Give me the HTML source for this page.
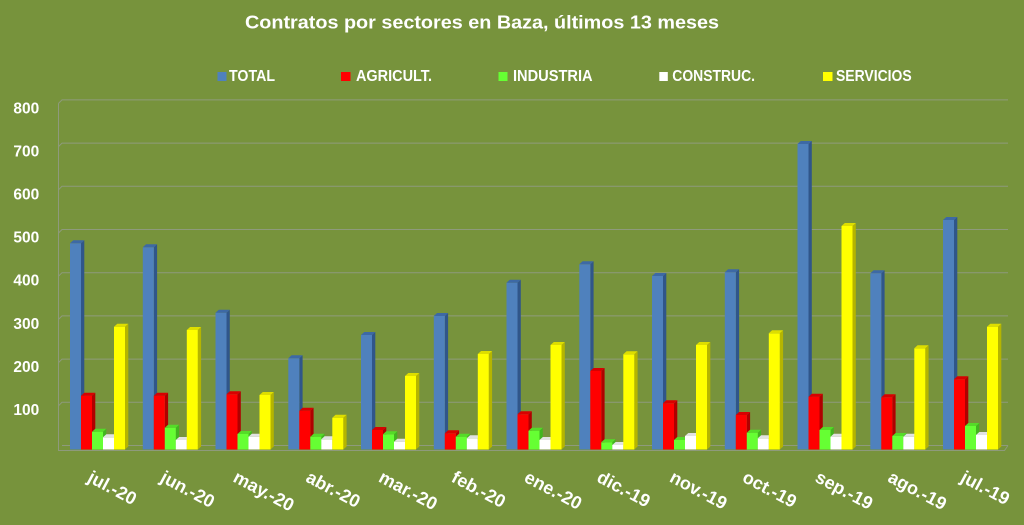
<!DOCTYPE html>
<html>
<head>
<meta charset="utf-8">
<style>
html,body{margin:0;padding:0;background:#77933c;}
svg{display:block;}
text{font-family:"Liberation Sans",sans-serif;font-weight:bold;fill:#ffffff;}
.Tf{fill:#4f81bd}.Ts{fill:#30568a}.Tt{fill:#3d69a5}
.Af{fill:#ff0000}.As{fill:#b00000}.At{fill:#d80000}
.If{fill:#66ff33}.Is{fill:#42b51f}.It{fill:#55db28}
.Cf{fill:#ffffff}.Cs{fill:#c4c4c4}.Ct{fill:#e2e2e2}
.Sf{fill:#ffff00}.Ss{fill:#b5b500}.St{fill:#dede00}
.g{stroke:#8e9a7c;stroke-width:1;fill:none}
</style>
</head>
<body>
<svg width="1024" height="525" viewBox="0 0 1024 525" xmlns="http://www.w3.org/2000/svg">
<rect width="1024" height="525" fill="#77933c"/>

<!-- Title -->
<text x="245" y="28.5" font-size="18" textLength="474" lengthAdjust="spacingAndGlyphs">Contratos por sectores en Baza, últimos 13 meses</text>

<!-- Legend -->
<rect x="217.5" y="72" width="9" height="9" fill="#4f81bd"/>
<text x="229" y="81" font-size="15.5" textLength="46" lengthAdjust="spacingAndGlyphs">TOTAL</text>
<rect x="341" y="72" width="9.5" height="9" fill="#ff0000"/>
<text x="356" y="81" font-size="15.5" textLength="76" lengthAdjust="spacingAndGlyphs">AGRICULT.</text>
<rect x="498.5" y="72" width="9" height="9" fill="#66ff33"/>
<text x="513" y="81" font-size="15.5" textLength="79.6" lengthAdjust="spacingAndGlyphs">INDUSTRIA</text>
<rect x="659.3" y="72" width="8.5" height="9" fill="#ffffff"/>
<text x="672.3" y="81" font-size="15.5" textLength="82.7" lengthAdjust="spacingAndGlyphs">CONSTRUC.</text>
<rect x="823" y="72" width="9.5" height="9" fill="#ffff00"/>
<text x="836" y="81" font-size="15.5" textLength="75.7" lengthAdjust="spacingAndGlyphs">SERVICIOS</text>

<!-- Y labels -->
<g font-size="15.5" text-anchor="end">
<text x="39.3" y="113.3">800</text>
<text x="39.3" y="156.4">700</text>
<text x="39.3" y="199.5">600</text>
<text x="39.3" y="242.6">500</text>
<text x="39.3" y="285.7">400</text>
<text x="39.3" y="328.8">300</text>
<text x="39.3" y="371.9">200</text>
<text x="39.3" y="415">100</text>
</g>

<!-- Gridlines / walls -->
<g class="g">
<polyline points="58.5,103.4 62,99.9 1008,99.9"/>
<polyline points="58.5,146.6 62,143.1 1008,143.1"/>
<polyline points="58.5,189.8 62,186.3 1008,186.3"/>
<polyline points="58.5,233 62,229.5 1008,229.5"/>
<polyline points="58.5,276.2 62,272.7 1008,272.7"/>
<polyline points="58.5,319.4 62,315.9 1008,315.9"/>
<polyline points="58.5,362.6 62,359.1 1008,359.1"/>
<polyline points="58.5,405.8 62,402.3 1008,402.3"/>
<polyline points="62,445.5 1008,445.5"/>
<polyline points="58.5,103.4 58.5,450.5 1004.5,450.5 1008,445.5"/>
</g>

<!-- Bars -->
<!-- i0 jul.-20 g=70 -->
<path class="Ts" d="M81 243.3l3.3-3V446.5l-3.3 3z"/><rect class="Tf" x="70" y="243.3" width="11" height="206.2"/><path class="Tt" d="M70 243.3l3.3-3h11l-3.3 3z"/>
<path class="As" d="M92 395.7l3.3-3V446.5l-3.3 3z"/><rect class="Af" x="81" y="395.7" width="11" height="53.8"/><path class="At" d="M81 395.7l3.3-3h11l-3.3 3z"/>
<path class="Is" d="M103 431.7l3.3-3V446.5l-3.3 3z"/><rect class="If" x="92" y="431.7" width="11" height="17.8"/><path class="It" d="M92 431.7l3.3-3h11l-3.3 3z"/>
<path class="Cs" d="M114 437.3l3.3-3V446.5l-3.3 3z"/><rect class="Cf" x="103" y="437.3" width="11" height="12.2"/><path class="Ct" d="M103 437.3l3.3-3h11l-3.3 3z"/>
<path class="Ss" d="M125 326.7l3.3-3V446.5l-3.3 3z"/><rect class="Sf" x="114" y="326.7" width="11" height="122.8"/><path class="St" d="M114 326.7l3.3-3h11l-3.3 3z"/>

<!-- i1 jun.-20 g=142.8 -->
<path class="Ts" d="M153.8 247.3l3.3-3V446.5l-3.3 3z"/><rect class="Tf" x="142.8" y="247.3" width="11" height="202.2"/><path class="Tt" d="M142.8 247.3l3.3-3h11l-3.3 3z"/>
<path class="As" d="M164.8 395.7l3.3-3V446.5l-3.3 3z"/><rect class="Af" x="153.8" y="395.7" width="11" height="53.8"/><path class="At" d="M153.8 395.7l3.3-3h11l-3.3 3z"/>
<path class="Is" d="M175.8 427.7l3.3-3V446.5l-3.3 3z"/><rect class="If" x="164.8" y="427.7" width="11" height="21.8"/><path class="It" d="M164.8 427.7l3.3-3h11l-3.3 3z"/>
<path class="Cs" d="M186.8 440l3.3-3V446.5l-3.3 3z"/><rect class="Cf" x="175.8" y="440" width="11" height="9.5"/><path class="Ct" d="M175.8 440l3.3-3h11l-3.3 3z"/>
<path class="Ss" d="M197.8 330l3.3-3V446.5l-3.3 3z"/><rect class="Sf" x="186.8" y="330" width="11" height="119.5"/><path class="St" d="M186.8 330l3.3-3h11l-3.3 3z"/>

<!-- i2 may.-20 g=215.5 -->
<path class="Ts" d="M226.5 312.7l3.3-3V446.5l-3.3 3z"/><rect class="Tf" x="215.5" y="312.7" width="11" height="136.8"/><path class="Tt" d="M215.5 312.7l3.3-3h11l-3.3 3z"/>
<path class="As" d="M237.5 394.3l3.3-3V446.5l-3.3 3z"/><rect class="Af" x="226.5" y="394.3" width="11" height="55.2"/><path class="At" d="M226.5 394.3l3.3-3h11l-3.3 3z"/>
<path class="Is" d="M248.5 434l3.3-3V446.5l-3.3 3z"/><rect class="If" x="237.5" y="434" width="11" height="15.5"/><path class="It" d="M237.5 434l3.3-3h11l-3.3 3z"/>
<path class="Cs" d="M259.5 436.7l3.3-3V446.5l-3.3 3z"/><rect class="Cf" x="248.5" y="436.7" width="11" height="12.8"/><path class="Ct" d="M248.5 436.7l3.3-3h11l-3.3 3z"/>
<path class="Ss" d="M270.5 395l3.3-3V446.5l-3.3 3z"/><rect class="Sf" x="259.5" y="395" width="11" height="54.5"/><path class="St" d="M259.5 395l3.3-3h11l-3.3 3z"/>

<!-- i3 abr.-20 g=288.3 -->
<path class="Ts" d="M299.3 358.3l3.3-3V446.5l-3.3 3z"/><rect class="Tf" x="288.3" y="358.3" width="11" height="91.2"/><path class="Tt" d="M288.3 358.3l3.3-3h11l-3.3 3z"/>
<path class="As" d="M310.3 410.7l3.3-3V446.5l-3.3 3z"/><rect class="Af" x="299.3" y="410.7" width="11" height="38.8"/><path class="At" d="M299.3 410.7l3.3-3h11l-3.3 3z"/>
<path class="Is" d="M321.3 436.7l3.3-3V446.5l-3.3 3z"/><rect class="If" x="310.3" y="436.7" width="11" height="12.8"/><path class="It" d="M310.3 436.7l3.3-3h11l-3.3 3z"/>
<path class="Cs" d="M332.3 439.3l3.3-3V446.5l-3.3 3z"/><rect class="Cf" x="321.3" y="439.3" width="11" height="10.2"/><path class="Ct" d="M321.3 439.3l3.3-3h11l-3.3 3z"/>
<path class="Ss" d="M343.3 417.7l3.3-3V446.5l-3.3 3z"/><rect class="Sf" x="332.3" y="417.7" width="11" height="31.8"/><path class="St" d="M332.3 417.7l3.3-3h11l-3.3 3z"/>

<!-- i4 mar.-20 g=361 -->
<path class="Ts" d="M372 335l3.3-3V446.5l-3.3 3z"/><rect class="Tf" x="361" y="335" width="11" height="114.5"/><path class="Tt" d="M361 335l3.3-3h11l-3.3 3z"/>
<path class="As" d="M383 430l3.3-3V446.5l-3.3 3z"/><rect class="Af" x="372" y="430" width="11" height="19.5"/><path class="At" d="M372 430l3.3-3h11l-3.3 3z"/>
<path class="Is" d="M394 434.3l3.3-3V446.5l-3.3 3z"/><rect class="If" x="383" y="434.3" width="11" height="15.2"/><path class="It" d="M383 434.3l3.3-3h11l-3.3 3z"/>
<path class="Cs" d="M405 441.7l3.3-3V446.5l-3.3 3z"/><rect class="Cf" x="394" y="441.7" width="11" height="7.8"/><path class="Ct" d="M394 441.7l3.3-3h11l-3.3 3z"/>
<path class="Ss" d="M416 376l3.3-3V446.5l-3.3 3z"/><rect class="Sf" x="405" y="376" width="11" height="73.5"/><path class="St" d="M405 376l3.3-3h11l-3.3 3z"/>

<!-- i5 feb.-20 g=433.8 -->
<path class="Ts" d="M444.8 316l3.3-3V446.5l-3.3 3z"/><rect class="Tf" x="433.8" y="316" width="11" height="133.5"/><path class="Tt" d="M433.8 316l3.3-3h11l-3.3 3z"/>
<path class="As" d="M455.8 433.3l3.3-3V446.5l-3.3 3z"/><rect class="Af" x="444.8" y="433.3" width="11" height="16.2"/><path class="At" d="M444.8 433.3l3.3-3h11l-3.3 3z"/>
<path class="Is" d="M466.8 436.7l3.3-3V446.5l-3.3 3z"/><rect class="If" x="455.8" y="436.7" width="11" height="12.8"/><path class="It" d="M455.8 436.7l3.3-3h11l-3.3 3z"/>
<path class="Cs" d="M477.8 438.3l3.3-3V446.5l-3.3 3z"/><rect class="Cf" x="466.8" y="438.3" width="11" height="11.2"/><path class="Ct" d="M466.8 438.3l3.3-3h11l-3.3 3z"/>
<path class="Ss" d="M488.8 354l3.3-3V446.5l-3.3 3z"/><rect class="Sf" x="477.8" y="354" width="11" height="95.5"/><path class="St" d="M477.8 354l3.3-3h11l-3.3 3z"/>

<!-- i6 ene.-20 g=506.5 -->
<path class="Ts" d="M517.5 282.7l3.3-3V446.5l-3.3 3z"/><rect class="Tf" x="506.5" y="282.7" width="11" height="166.8"/><path class="Tt" d="M506.5 282.7l3.3-3h11l-3.3 3z"/>
<path class="As" d="M528.5 414.3l3.3-3V446.5l-3.3 3z"/><rect class="Af" x="517.5" y="414.3" width="11" height="35.2"/><path class="At" d="M517.5 414.3l3.3-3h11l-3.3 3z"/>
<path class="Is" d="M539.5 430.7l3.3-3V446.5l-3.3 3z"/><rect class="If" x="528.5" y="430.7" width="11" height="18.8"/><path class="It" d="M528.5 430.7l3.3-3h11l-3.3 3z"/>
<path class="Cs" d="M550.5 440l3.3-3V446.5l-3.3 3z"/><rect class="Cf" x="539.5" y="440" width="11" height="9.5"/><path class="Ct" d="M539.5 440l3.3-3h11l-3.3 3z"/>
<path class="Ss" d="M561.5 345l3.3-3V446.5l-3.3 3z"/><rect class="Sf" x="550.5" y="345" width="11" height="104.5"/><path class="St" d="M550.5 345l3.3-3h11l-3.3 3z"/>

<!-- i7 dic.-19 g=579.3 -->
<path class="Ts" d="M590.3 264.3l3.3-3V446.5l-3.3 3z"/><rect class="Tf" x="579.3" y="264.3" width="11" height="185.2"/><path class="Tt" d="M579.3 264.3l3.3-3h11l-3.3 3z"/>
<path class="As" d="M601.3 371l3.3-3V446.5l-3.3 3z"/><rect class="Af" x="590.3" y="371" width="11" height="78.5"/><path class="At" d="M590.3 371l3.3-3h11l-3.3 3z"/>
<path class="Is" d="M612.3 442.3l3.3-3V446.5l-3.3 3z"/><rect class="If" x="601.3" y="442.3" width="11" height="7.2"/><path class="It" d="M601.3 442.3l3.3-3h11l-3.3 3z"/>
<path class="Cs" d="M623.3 445l3.3-3V446.5l-3.3 3z"/><rect class="Cf" x="612.3" y="445" width="11" height="4.5"/><path class="Ct" d="M612.3 445l3.3-3h11l-3.3 3z"/>
<path class="Ss" d="M634.3 354.3l3.3-3V446.5l-3.3 3z"/><rect class="Sf" x="623.3" y="354.3" width="11" height="95.2"/><path class="St" d="M623.3 354.3l3.3-3h11l-3.3 3z"/>

<!-- i8 nov.-19 g=652 -->
<path class="Ts" d="M663 276l3.3-3V446.5l-3.3 3z"/><rect class="Tf" x="652" y="276" width="11" height="173.5"/><path class="Tt" d="M652 276l3.3-3h11l-3.3 3z"/>
<path class="As" d="M674 403.3l3.3-3V446.5l-3.3 3z"/><rect class="Af" x="663" y="403.3" width="11" height="46.2"/><path class="At" d="M663 403.3l3.3-3h11l-3.3 3z"/>
<path class="Is" d="M685 440l3.3-3V446.5l-3.3 3z"/><rect class="If" x="674" y="440" width="11" height="9.5"/><path class="It" d="M674 440l3.3-3h11l-3.3 3z"/>
<path class="Cs" d="M696 436l3.3-3V446.5l-3.3 3z"/><rect class="Cf" x="685" y="436" width="11" height="13.5"/><path class="Ct" d="M685 436l3.3-3h11l-3.3 3z"/>
<path class="Ss" d="M707 345l3.3-3V446.5l-3.3 3z"/><rect class="Sf" x="696" y="345" width="11" height="104.5"/><path class="St" d="M696 345l3.3-3h11l-3.3 3z"/>

<!-- i9 oct.-19 g=724.8 -->
<path class="Ts" d="M735.8 272.3l3.3-3V446.5l-3.3 3z"/><rect class="Tf" x="724.8" y="272.3" width="11" height="177.2"/><path class="Tt" d="M724.8 272.3l3.3-3h11l-3.3 3z"/>
<path class="As" d="M746.8 415l3.3-3V446.5l-3.3 3z"/><rect class="Af" x="735.8" y="415" width="11" height="34.5"/><path class="At" d="M735.8 415l3.3-3h11l-3.3 3z"/>
<path class="Is" d="M757.8 432.7l3.3-3V446.5l-3.3 3z"/><rect class="If" x="746.8" y="432.7" width="11" height="16.8"/><path class="It" d="M746.8 432.7l3.3-3h11l-3.3 3z"/>
<path class="Cs" d="M768.8 438.3l3.3-3V446.5l-3.3 3z"/><rect class="Cf" x="757.8" y="438.3" width="11" height="11.2"/><path class="Ct" d="M757.8 438.3l3.3-3h11l-3.3 3z"/>
<path class="Ss" d="M779.8 333.3l3.3-3V446.5l-3.3 3z"/><rect class="Sf" x="768.8" y="333.3" width="11" height="116.2"/><path class="St" d="M768.8 333.3l3.3-3h11l-3.3 3z"/>

<!-- i10 sep.-19 g=797.5 -->
<path class="Ts" d="M808.5 144l3.3-3V446.5l-3.3 3z"/><rect class="Tf" x="797.5" y="144" width="11" height="305.5"/><path class="Tt" d="M797.5 144l3.3-3h11l-3.3 3z"/>
<path class="As" d="M819.5 396.7l3.3-3V446.5l-3.3 3z"/><rect class="Af" x="808.5" y="396.7" width="11" height="52.8"/><path class="At" d="M808.5 396.7l3.3-3h11l-3.3 3z"/>
<path class="Is" d="M830.5 430l3.3-3V446.5l-3.3 3z"/><rect class="If" x="819.5" y="430" width="11" height="19.5"/><path class="It" d="M819.5 430l3.3-3h11l-3.3 3z"/>
<path class="Cs" d="M841.5 436.7l3.3-3V446.5l-3.3 3z"/><rect class="Cf" x="830.5" y="436.7" width="11" height="12.8"/><path class="Ct" d="M830.5 436.7l3.3-3h11l-3.3 3z"/>
<path class="Ss" d="M852.5 226l3.3-3V446.5l-3.3 3z"/><rect class="Sf" x="841.5" y="226" width="11" height="223.5"/><path class="St" d="M841.5 226l3.3-3h11l-3.3 3z"/>

<!-- i11 ago.-19 g=870.3 -->
<path class="Ts" d="M881.3 273.3l3.3-3V446.5l-3.3 3z"/><rect class="Tf" x="870.3" y="273.3" width="11" height="176.2"/><path class="Tt" d="M870.3 273.3l3.3-3h11l-3.3 3z"/>
<path class="As" d="M892.3 397.3l3.3-3V446.5l-3.3 3z"/><rect class="Af" x="881.3" y="397.3" width="11" height="52.2"/><path class="At" d="M881.3 397.3l3.3-3h11l-3.3 3z"/>
<path class="Is" d="M903.3 436l3.3-3V446.5l-3.3 3z"/><rect class="If" x="892.3" y="436" width="11" height="13.5"/><path class="It" d="M892.3 436l3.3-3h11l-3.3 3z"/>
<path class="Cs" d="M914.3 436.7l3.3-3V446.5l-3.3 3z"/><rect class="Cf" x="903.3" y="436.7" width="11" height="12.8"/><path class="Ct" d="M903.3 436.7l3.3-3h11l-3.3 3z"/>
<path class="Ss" d="M925.3 348.3l3.3-3V446.5l-3.3 3z"/><rect class="Sf" x="914.3" y="348.3" width="11" height="101.2"/><path class="St" d="M914.3 348.3l3.3-3h11l-3.3 3z"/>

<!-- i12 jul.-19 g=943 -->
<path class="Ts" d="M954 220l3.3-3V446.5l-3.3 3z"/><rect class="Tf" x="943" y="220" width="11" height="229.5"/><path class="Tt" d="M943 220l3.3-3h11l-3.3 3z"/>
<path class="As" d="M965 379.3l3.3-3V446.5l-3.3 3z"/><rect class="Af" x="954" y="379.3" width="11" height="70.2"/><path class="At" d="M954 379.3l3.3-3h11l-3.3 3z"/>
<path class="Is" d="M976 426l3.3-3V446.5l-3.3 3z"/><rect class="If" x="965" y="426" width="11" height="23.5"/><path class="It" d="M965 426l3.3-3h11l-3.3 3z"/>
<path class="Cs" d="M987 435l3.3-3V446.5l-3.3 3z"/><rect class="Cf" x="976" y="435" width="11" height="14.5"/><path class="Ct" d="M976 435l3.3-3h11l-3.3 3z"/>
<path class="Ss" d="M998 326.7l3.3-3V446.5l-3.3 3z"/><rect class="Sf" x="987" y="326.7" width="11" height="122.8"/><path class="St" d="M987 326.7l3.3-3h11l-3.3 3z"/>

<!-- X labels -->
<g font-size="18">
<text transform="translate(86.5,481) rotate(28)">jul.-20</text>
<text transform="translate(159.3,481) rotate(28)">jun.-20</text>
<text transform="translate(232,481) rotate(28)">may.-20</text>
<text transform="translate(304.8,481) rotate(28)">abr.-20</text>
<text transform="translate(377.5,481) rotate(28)">mar.-20</text>
<text transform="translate(450.3,481) rotate(28)">feb.-20</text>
<text transform="translate(523,481) rotate(28)">ene.-20</text>
<text transform="translate(595.8,481) rotate(28)">dic.-19</text>
<text transform="translate(668.5,481) rotate(28)">nov.-19</text>
<text transform="translate(741.3,481) rotate(28)">oct.-19</text>
<text transform="translate(814,481) rotate(28)">sep.-19</text>
<text transform="translate(886.8,481) rotate(28)">ago.-19</text>
<text transform="translate(959.5,481) rotate(28)">jul.-19</text>
</g>
</svg>
</body>
</html>
